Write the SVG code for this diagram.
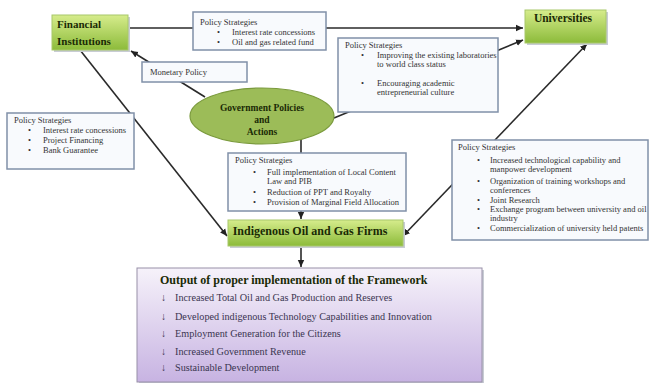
<svg xmlns="http://www.w3.org/2000/svg" width="652" height="383" viewBox="0 0 652 383">
<defs>
<linearGradient id="gGreen" x1="0" y1="0" x2="0" y2="1"><stop offset="0" stop-color="#d6ec8c"/><stop offset="1" stop-color="#8cbb3a"/></linearGradient>
<linearGradient id="gPurple" x1="0" y1="0" x2="0" y2="1"><stop offset="0" stop-color="#f6f2fa"/><stop offset="1" stop-color="#c7b3e2"/></linearGradient>
<marker id="arr" markerWidth="8" markerHeight="8" refX="7" refY="4" orient="auto" markerUnits="userSpaceOnUse"><path d="M0,0.8 L7,4 L0,7.2 z" fill="#222"/></marker>
</defs>
<style>
.ln{stroke:#2a2a2a;stroke-width:1.6;fill:none}
.pol{fill:#f8fafd;stroke:#8090a8;stroke-width:1.5}
.sh{fill:#c8ccd4}
.grn{fill:url(#gGreen);stroke:#a8c86a;stroke-width:1}
.t{font-family:"Liberation Serif",serif;font-size:8.5px;fill:#333}
.b{font-family:"Liberation Serif",serif;font-weight:bold;fill:#1a2a05}
.o{font-family:"Liberation Serif",serif;font-size:10.2px;fill:#3a3550}
</style>
<g id="connectors">
<line class="ln" x1="128" y1="28" x2="523" y2="28" marker-end="url(#arr)"/>
<line class="ln" x1="205" y1="97" x2="131" y2="51" marker-end="url(#arr)"/>
<line class="ln" x1="80" y1="50" x2="227" y2="236" marker-end="url(#arr)"/>
<line class="ln" x1="334" y1="118" x2="523" y2="40" marker-end="url(#arr)"/>
<line class="ln" x1="495" y1="140" x2="587" y2="44" marker-end="url(#arr)"/>
<line class="ln" x1="495" y1="140" x2="403" y2="236" marker-end="url(#arr)"/>
<line class="ln" x1="301" y1="139" x2="301" y2="219" marker-end="url(#arr)"/>
<line class="ln" x1="301" y1="246" x2="301" y2="267" marker-end="url(#arr)"/>
</g>
<g id="financial-institutions">
<rect x="54" y="17" width="76" height="35" class="sh"/>
<rect x="52" y="15" width="76" height="35" class="grn"/>
<text class="b" font-size="11" x="57" y="28">Financial</text>
<text class="b" font-size="11" x="57" y="45">Institutions</text>
</g>
<g id="universities">
<rect x="527" y="12" width="81" height="33" class="sh"/>
<rect x="525" y="10" width="81" height="33" class="grn"/>
<text class="b" font-size="11.5" x="563" y="22" text-anchor="middle">Universities</text>
</g>
<g id="policy-top">
<rect x="193" y="12" width="133" height="38" class="pol"/>
<text class="t" x="200" y="25">Policy Strategies</text>
<text class="t" x="217" y="35">•</text><text class="t" x="232" y="35">Interest rate concessions</text>
<text class="t" x="217" y="45">•</text><text class="t" x="232" y="45">Oil and gas related fund</text>
</g>
<g id="policy-univ">
<rect x="338" y="38" width="160" height="74" class="pol"/>
<text class="t" x="345" y="48">Policy Strategies</text>
<text class="t" x="361" y="58">•</text><text class="t" x="377" y="58">Improving the existing laboratories</text>
<text class="t" x="377" y="67">to world class status</text>
<text class="t" x="361" y="86">•</text><text class="t" x="377" y="86">Encouraging academic</text>
<text class="t" x="377" y="95">entrepreneurial culture</text>
</g>
<g id="monetary-policy">
<rect x="142" y="62" width="105" height="20" class="pol"/>
<text class="t" font-size="9.3" x="150" y="75">Monetary Policy</text>
</g>
<g id="government">
<ellipse cx="262" cy="116" rx="72" ry="28" fill="#9cbc58" stroke="#7a9a3c" stroke-width="1.2"/>
<text class="b" font-size="9.5" x="262" y="111" text-anchor="middle">Government Policies</text>
<text class="b" font-size="9.5" x="262" y="123" text-anchor="middle">and</text>
<text class="b" font-size="9.5" x="262" y="135" text-anchor="middle">Actions</text>
</g>
<g id="policy-left">
<rect x="7" y="113" width="127" height="56" class="pol"/>
<text class="t" x="14" y="123">Policy Strategies</text>
<text class="t" x="28" y="133">•</text><text class="t" x="43" y="133">Interest rate concessions</text>
<text class="t" x="28" y="143">•</text><text class="t" x="43" y="143">Project Financing</text>
<text class="t" x="28" y="153">•</text><text class="t" x="43" y="153">Bank Guarantee</text>
</g>
<g id="policy-middle">
<rect x="228" y="153" width="178" height="58" class="pol"/>
<text class="t" x="235" y="163">Policy Strategies</text>
<text class="t" x="253" y="175">•</text><text class="t" x="267" y="175">Full implementation of Local Content</text>
<text class="t" x="267" y="184">Law and PIB</text>
<text class="t" x="253" y="195">•</text><text class="t" x="267" y="195">Reduction of PPT and Royalty</text>
<text class="t" x="253" y="205">•</text><text class="t" x="267" y="205">Provision of Marginal Field Allocation</text>
</g>
<g id="policy-right">
<rect x="452" y="140" width="196" height="100" class="pol"/>
<text class="t" x="458" y="150">Policy Strategies</text>
<text class="t" x="477" y="163">•</text><text class="t" x="490" y="163">Increased technological capability and</text>
<text class="t" x="490" y="172">manpower development</text>
<text class="t" x="477" y="184">•</text><text class="t" x="490" y="184">Organization of training workshops and</text>
<text class="t" x="490" y="193">conferences</text>
<text class="t" x="477" y="203">•</text><text class="t" x="490" y="203">Joint Research</text>
<text class="t" x="477" y="212">•</text><text class="t" x="490" y="212">Exchange program between university and oil</text>
<text class="t" x="490" y="221">industry</text>
<text class="t" x="477" y="231">•</text><text class="t" x="490" y="231">Commercialization of university held patents</text>
</g>
<g id="indigenous-firms">
<rect x="230" y="222" width="175" height="26" class="sh"/>
<rect x="228" y="220" width="175" height="26" class="grn"/>
<text class="b" font-size="12" x="310" y="235" text-anchor="middle">Indigenous Oil and Gas Firms</text>
</g>
<g id="output">
<rect x="139" y="270" width="345" height="114" class="sh"/>
<rect x="137" y="268" width="345" height="114" fill="url(#gPurple)" stroke="#9890a8" stroke-width="1"/>
<text class="b" font-size="12" x="160" y="284" fill="#2a2540">Output of proper implementation of the Framework</text>
<text class="o" font-weight="bold" x="161" y="301">↓</text><text class="o" x="175" y="301">Increased Total Oil and Gas Production and Reserves</text>
<text class="o" font-weight="bold" x="161" y="320">↓</text><text class="o" x="175" y="320">Developed indigenous Technology Capabilities and Innovation</text>
<text class="o" font-weight="bold" x="161" y="337">↓</text><text class="o" x="175" y="337">Employment Generation for the Citizens</text>
<text class="o" font-weight="bold" x="161" y="355">↓</text><text class="o" x="175" y="355">Increased Government Revenue</text>
<text class="o" font-weight="bold" x="161" y="371">↓</text><text class="o" x="175" y="371">Sustainable Development</text>
</g>
</svg>
